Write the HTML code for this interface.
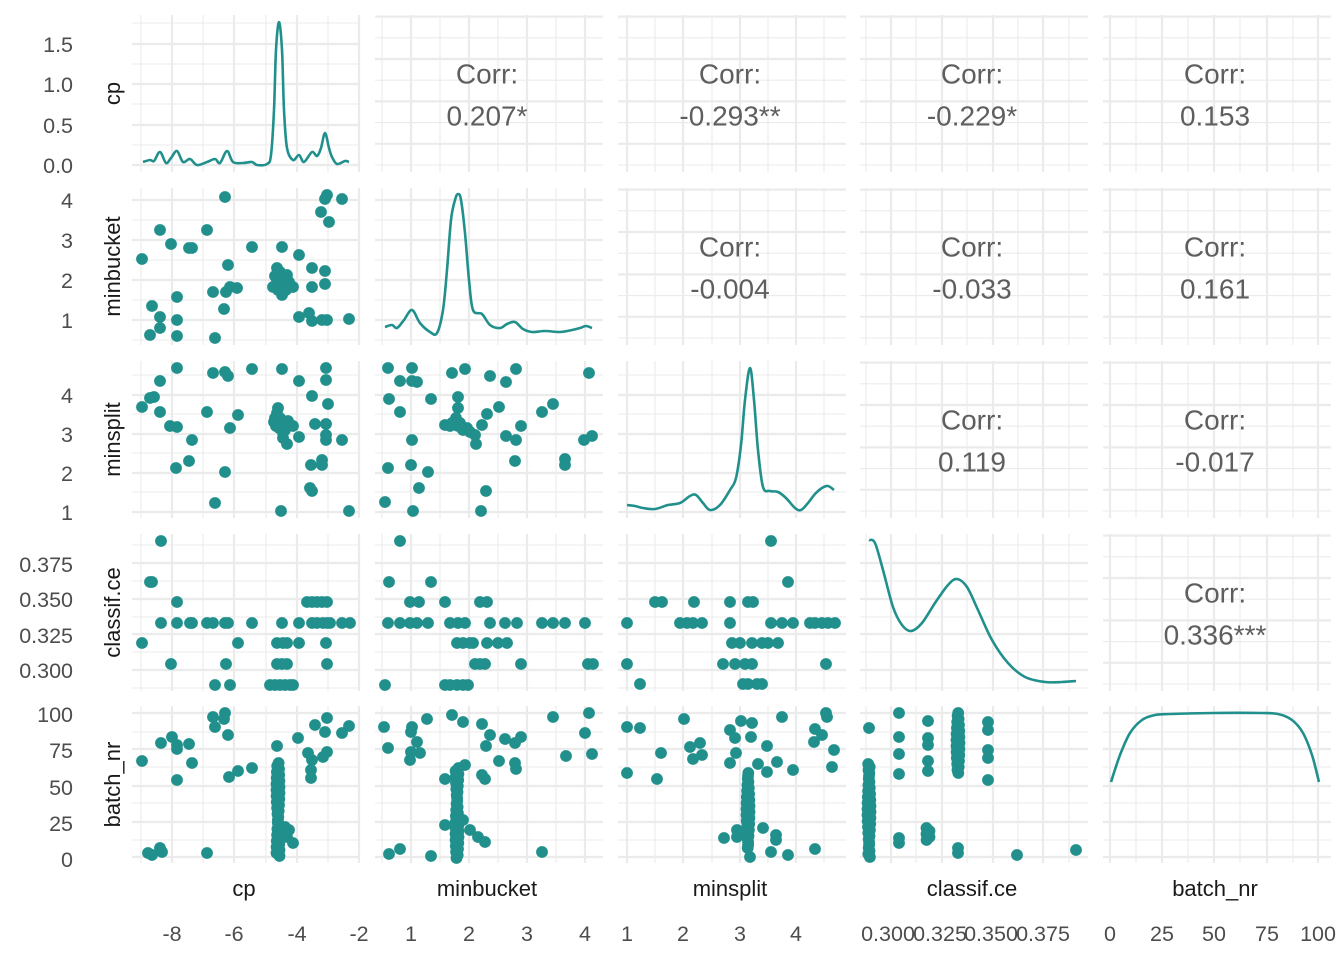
<!DOCTYPE html>
<html><head><meta charset="utf-8"><style>html,body{margin:0;padding:0;background:#fff}svg{display:block}</style></head>
<body>
<svg id="s" width="1344" height="960" xmlns="http://www.w3.org/2000/svg" font-family="Liberation Sans, sans-serif"></svg>
<script>
const S=document.getElementById('s');let h='';
const C='#21908C';
const cols=[[132,360],[375,603],[618,846],[860,1088],[1103,1331]];
const rows=[[15,172],[188,345],[361,518],[534,691],[706,863]];
const cg=[
 [[172,234,297,359],[141,203,266,328]],
 [[411,469,527,585],[382,440,498,556]],
 [[627,683,740,796],[655,712,768,824]],
 [[891,942,993,1043],[866,916,967,1018,1069]],
 [[1110,1162,1214,1267,1318],[1136,1188,1240,1293]]];
const rg=[
 [[165,125,84,44],[145,104,64,23]],
 [[200,240,280,320],[220,260,300,340]],
 [[395,434,473,512],[375,414,453,492]],
 [[563,599,634,670],[545,581,617,652,688]],
 [[713,749,786,822,857],[732,767,803,840]]];
for(let i=0;i<5;i++)for(let j=0;j<5;j++){
 const [x0,x1]=cols[j],[y0,y1]=rows[i];
 let ymaj=rg[i][0],ymin=rg[i][1];
 if(j>i){ymaj=[];ymin=[];for(let k=0;k<8;k++){let y=y1-7-k*21.2;if(y<y0)break;(k%2?ymaj:ymin).push(y);}}
 for(const y of ymin)h+=`<line x1="${x0}" x2="${x1}" y1="${y}" y2="${y}" stroke="#ebebeb" stroke-width="1.1"/>`;
 for(const x of cg[j][1])if(x>=x0&&x<=x1)h+=`<line x1="${x}" x2="${x}" y1="${y0}" y2="${y1}" stroke="#ebebeb" stroke-width="1.1"/>`;
 for(const y of ymaj)h+=`<line x1="${x0}" x2="${x1}" y1="${y}" y2="${y}" stroke="#ebebeb" stroke-width="2.2"/>`;
 for(const x of cg[j][0])if(x>=x0&&x<=x1)h+=`<line x1="${x}" x2="${x}" y1="${y0}" y2="${y1}" stroke="#ebebeb" stroke-width="2.2"/>`;
}
const corr={'0,1':'0.207*','0,2':'-0.293**','0,3':'-0.229*','0,4':'0.153','1,2':'-0.004','1,3':'-0.033','1,4':'0.161','2,3':'0.119','2,4':'-0.017','3,4':'0.336***'};
for(const k in corr){const [i,j]=k.split(',').map(Number);const cx=(cols[j][0]+cols[j][1])/2-2,cy=(rows[i][0]+rows[i][1])/2;
 h+=`<text x="${cx}" y="${cy-10}" font-size="28" fill="#5e5e5e" text-anchor="middle">Corr:</text>`;
 h+=`<text x="${cx}" y="${cy+32}" font-size="28" fill="#5e5e5e" text-anchor="middle">${corr[k]}</text>`;}
function smooth(p){let d=`M${p[0][0]},${p[0][1]}`;for(let k=0;k<p.length-1;k++){const p0=p[Math.max(0,k-1)],p1=p[k],p2=p[k+1],p3=p[Math.min(p.length-1,k+2)];
 d+=` C${p1[0]+(p2[0]-p0[0])/6},${p1[1]+(p2[1]-p0[1])/6} ${p2[0]-(p3[0]-p1[0])/6},${p2[1]-(p3[1]-p1[1])/6} ${p2[0]},${p2[1]}`;}
 return `<path d="${d}" fill="none" stroke="${C}" stroke-width="2.6"/>`;}
h+=smooth([[143,162],[150,160],[154,161],[160,152],[166,163],[171,158],[177,151],[183,162],[190,159],[197,165],[207,162],[215,159],[220,163],[227,151],[233,162],[243,163],[252,162],[257,165],[267,164],[271,155],[274,110],[276,50],[279,22],[282,50],[284,110],[287,148],[293,160],[299,155],[304,162],[312,152],[317,156],[321,148],[325,133],[329,148],[332,157],[337,164],[345,161],[349,162]]);
h+=smooth([[385,327],[392,325],[397,328],[404,320],[412,310],[420,323],[430,332],[437,333],[443,310],[447,270],[451,220],[455,200],[458,194],[461,200],[465,233],[469,280],[473,310],[482,314],[490,325],[500,328],[507,324],[515,322],[523,329],[532,332],[545,331],[560,332],[572,330],[580,328],[586,326],[592,328]]);
h+=smooth([[627,505],[635,506],[643,508],[655,509],[668,505],[680,503],[690,496],[696,495],[703,503],[710,510],[720,505],[730,490],[736,478],[741,445],[745,400],[750,368],[754,400],[758,450],[763,487],[770,491],[778,492],[786,498],[795,508],[801,510],[808,503],[815,494],[822,488],[828,486],[834,490]]);
h+=smooth([[869,540],[875,543],[883,570],[893,607],[902,625],[911,631],[922,623],[935,603],[948,585],[957,579],[967,587],[978,610],[992,640],[1008,663],[1025,677],[1045,682],[1062,682],[1076,681]]);
h+=smooth([[1111,782],[1120,755],[1130,733],[1142,720],[1155,715],[1170,714],[1214,713],[1260,713],[1278,714],[1292,720],[1303,733],[1312,755],[1319,782]]);
let P=[];
function add(s){s.trim().split(/\s+/).forEach(t=>{const [x,y]=t.split(',').map(Number);P.push([x,y]);});}
function vcol(x,a,b,st){for(let y=a;y<=b;y+=st)P.push([x+(Math.sin(y)*1.5),y]);}
function hrow(y,xs){xs.forEach(x=>P.push([x,y]));}
add(`225,197 327,195 325,199 342,199 321,212 329,222 160,230 207,230 171,244 189,248 192,248 252,247 282,247 142,259 299,255 228,265 277,268 287,275 312,268 325,271 277,280 273,287 283,287 293,287 282,295 312,287 325,284 213,292 226,292 230,287 237,288 177,297 152,306 160,317 160,328 177,320 224,309 299,317 309,313 312,321 322,320 327,320 349,319 150,335 177,336 215,338 280,272 285,280 289,282 278,290 275,276 286,290 281,284`);
add(`177,368 213,373 225,372 228,376 252,369 282,369 326,368 160,381 299,381 326,380 150,398 154,397 142,407 160,412 312,396 328,404 207,412 238,415 278,408 275,418 282,423 293,426 283,433 287,444 299,437 170,426 177,427 230,428 315,424 326,424 326,435 326,440 342,440 192,440 189,461 176,468 225,472 311,465 322,460 322,465 310,488 312,491 215,503 281,511 349,511 277,413 274,422 279,428 285,430 280,418 276,426 288,421 283,438`);
add(`388,368 412,368 452,373 465,369 490,376 516,369 506,382 589,373 400,381 412,381 417,382 389,399 431,399 400,412 458,397 458,408 445,425 460,423 467,428 475,435 476,444 482,425 487,414 499,407 521,426 506,436 516,440 542,412 553,404 584,440 592,436 412,440 515,461 565,459 565,465 388,468 411,465 428,472 419,488 486,491 385,502 413,511 481,511 452,423 456,418 463,430 470,432 458,426 450,426`);
add(`161,541 150,582 152,582 177,602 142,643 238,643 277,643 283,643 287,643 299,643 326,643 171,664 226,664 277,664 282,664 287,664 327,664`);
hrow(602,[307,312,317,322,327]);
hrow(623,[161,177,190,192,207,213,225,228,252,282,299,312,317,323,327,330,342,350]);
hrow(685,[215,230,270,275,280,285,290,293]);
add(`400,541 389,582 431,582`);
hrow(602,[410,419,445,480,487]);
hrow(623,[388,400,410,417,428,450,458,465,490,505,517,542,553,565,585]);
hrow(643,[457,463,470,473,487,498,507]);
hrow(664,[475,480,485,521,588,593]);
hrow(685,[385,445,450,457,463,468]);
add(`771,541 788,582`);
hrow(602,[655,662,694,730,748,753]);
hrow(623,[627,680,687,693,702,730,771,782,793,810,815,822,828,835]);
hrow(643,[732,740,752,762,768,778]);
hrow(664,[627,723,735,745,752,826]);
hrow(684,[640,743,748,757,762]);
add(`142,761 148,853 152,855 160,848 162,852 161,743 172,737 177,745 177,749 189,744 192,763 177,780 207,853 213,717 215,727 225,713 224,719 228,735 229,777 238,771 252,768 277,746 285,827 293,843 287,837 298,738 308,753 312,760 311,770 311,778 315,725 327,718 325,732 342,733 349,726 327,752 323,757 282,834 289,830`);
vcol(278,763,857,3);
add(`384,727 388,748 412,727 411,732 417,742 411,752 420,753 410,760 427,719 452,715 463,722 482,724 490,735 486,746 505,739 515,743 521,737 499,761 515,763 516,769 465,765 482,775 485,779 445,779 445,825 470,830 478,837 485,842 463,820 389,854 400,849 431,856 542,852 553,717 589,713 585,733 566,756 592,754`);
vcol(457,768,858,3);
add(`627,727 640,728 684,719 661,753 627,773 657,779 690,747 700,743 693,759 702,755 730,730 735,738 741,721 752,723 751,737 782,717 767,746 736,753 730,763 758,764 767,772 777,762 793,770 815,729 814,742 822,735 826,713 827,717 834,750 832,767 724,838 737,830 737,837 763,828 776,835 776,840 771,852 788,855 815,849 750,857`);
vcol(748,773,850,3);
add(`869,728 899,713 899,737 899,754 899,774 899,838 899,843 928,721 928,738 928,745 928,761 928,771 988,722 988,730 988,750 988,758 988,780 1017,855 1076,850 958,848 958,853`);
vcol(869,764,857,3);vcol(928,828,840,3);vcol(958,713,773,3);
h+=P.map(p=>`<circle cx="${p[0].toFixed(1)}" cy="${p[1]}" r="5.9" fill="${C}"/>`).join('');
const yt=[[['0.0',165],['0.5',125],['1.0',84],['1.5',44]],[['1',320],['2',280],['3',240],['4',200]],[['1',512],['2',473],['3',434],['4',395]],[['0.300',670],['0.325',635],['0.350',599],['0.375',564]],[['0',859],['25',823],['50',787],['75',750],['100',714]]];
yt.forEach(r=>r.forEach(([t,y])=>h+=`<text x="73" y="${y+8}" font-size="21.5" fill="#4d4d4d" text-anchor="end">${t}</text>`));
const xt=[[['-8',172],['-6',234],['-4',297],['-2',359]],[['1',411],['2',469],['3',527],['4',585]],[['1',627],['2',683],['3',740],['4',796]],[['0.300',888],['0.325',940],['0.350',991],['0.375',1043]],[['0',1110],['25',1162],['50',1214],['75',1267],['100',1318]]];
xt.forEach(r=>r.forEach(([t,x])=>h+=`<text x="${x}" y="941" font-size="21.5" fill="#4d4d4d" text-anchor="middle">${t}</text>`));
const names=['cp','minbucket','minsplit','classif.ce','batch_nr'];
names.forEach((n,k)=>{const cx=(cols[k][0]+cols[k][1])/2,cy=(rows[k][0]+rows[k][1])/2;
 h+=`<text x="${cx-2}" y="896" font-size="22" fill="#1a1a1a" text-anchor="middle">${n}</text>`;
 h+=`<text transform="translate(120,${cy}) rotate(-90)" font-size="22" fill="#1a1a1a" text-anchor="middle">${n}</text>`;});
S.innerHTML=h;
</script>
</body></html>
